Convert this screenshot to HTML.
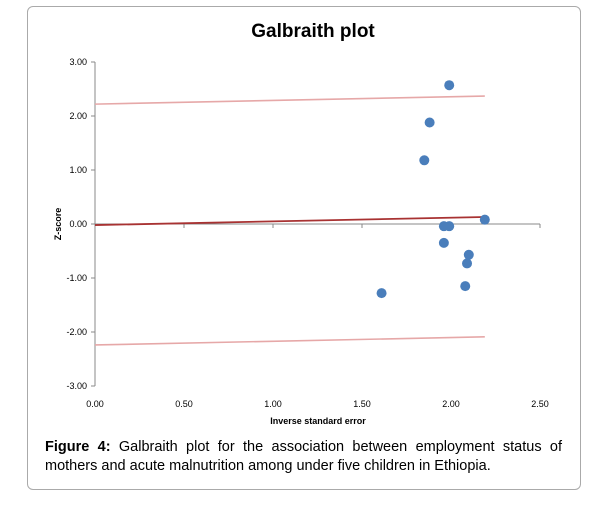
<!DOCTYPE html>
<html><head><meta charset="utf-8"><style>
body{margin:0;background:#fff;width:602px;height:506px;overflow:hidden;font-family:"Liberation Sans",sans-serif}
#frame{position:absolute;left:27px;top:6px;width:552px;height:482px;border:1px solid #aaa;border-radius:6px}
#cap{position:absolute;left:45px;top:438px;width:517px;font-size:14.5px;line-height:19px;text-align:justify;text-align-last:left;color:#000}
</style></head><body>
<div id="frame"></div>
<svg width="602" height="506" style="position:absolute;left:0;top:0">
<text x="313" y="37" text-anchor="middle" font-size="19" font-weight="bold" font-family="Liberation Sans">Galbraith plot</text>
<g id="axes"></g><g id="lines"></g><g id="pts"></g>
<text x="318" y="424" text-anchor="middle" font-size="9" font-weight="bold" font-family="Liberation Sans">Inverse standard  error</text>
<text transform="translate(61,224) rotate(-90)" text-anchor="middle" font-size="9" font-weight="bold" font-family="Liberation Sans">Z-score</text>
</svg>
<div id="cap"><b>Figure 4:</b> Galbraith plot for the association between employment status of mothers and acute malnutrition among under five children in Ethiopia.</div>
<script>
const xTicks=[0,0.5,1,1.5,2,2.5];
const yTicks=[3,2,1,0,-1,-2,-3];
const ptX=[1.99,1.88,1.85,1.96,1.99,1.96,2.10,2.09,2.08,1.61,2.19];
const ptY=[2.57,1.88,1.18,-0.04,-0.04,-0.35,-0.57,-0.73,-1.15,-1.28,0.08];
const lineX=[0,2.19];
const centerY=[-0.02,0.13];
const upperY=[2.22,2.37];
const lowerY=[-2.24,-2.09];
const sx=v=>95+v*178, sy=v=>224-v*54;
const NS="http://www.w3.org/2000/svg";
function mk(p,t,a){const e=document.createElementNS(NS,t);for(const k in a)e.setAttribute(k,a[k]);p.appendChild(e);return e;}
const ax=document.getElementById('axes');
let e=mk(ax,'line',{x1:sx(0),y1:sy(3),x2:sx(0),y2:sy(-3),stroke:'#888'});


e=mk(ax,'line',{x1:sx(0),y1:sy(0),x2:sx(2.5),y2:sy(0),stroke:'#888'});


yTicks.forEach(v=>{mk(ax,'line',{x1:sx(0)-4,y1:sy(v),x2:sx(0),y2:sy(v),stroke:'#888'});
const t=mk(ax,'text',{x:sx(0)-8,y:sy(v)+3,'text-anchor':'end','font-size':9,'font-family':'Liberation Sans'});t.textContent=v.toFixed(2);

});
xTicks.forEach(v=>{mk(ax,'line',{x1:sx(v),y1:sy(0),x2:sx(v),y2:sy(0)+4,stroke:'#888'});
const t=mk(ax,'text',{x:sx(v),y:sy(-3)+21,'text-anchor':'middle','font-size':9,'font-family':'Liberation Sans'});t.textContent=v.toFixed(2);

});
const lg=document.getElementById('lines');
[[upperY,'#e6a8a8',1.6,'upper-bound-line'],[lowerY,'#e6a8a8',1.6,'lower-bound-line'],[centerY,'#a83232',1.8,'regression-line']].forEach(([ys,c,w,n])=>{
const l=mk(lg,'line',{x1:sx(lineX[0]),y1:sy(ys[0]),x2:sx(lineX[1]),y2:sy(ys[1]),stroke:c,'stroke-width':w});

});
const pg=document.getElementById('pts');
ptX.forEach((x,i)=>{const c=mk(pg,'circle',{cx:sx(x),cy:sy(ptY[i]),r:5,fill:'#4a7ebb'});

});
</script>
</body></html>
